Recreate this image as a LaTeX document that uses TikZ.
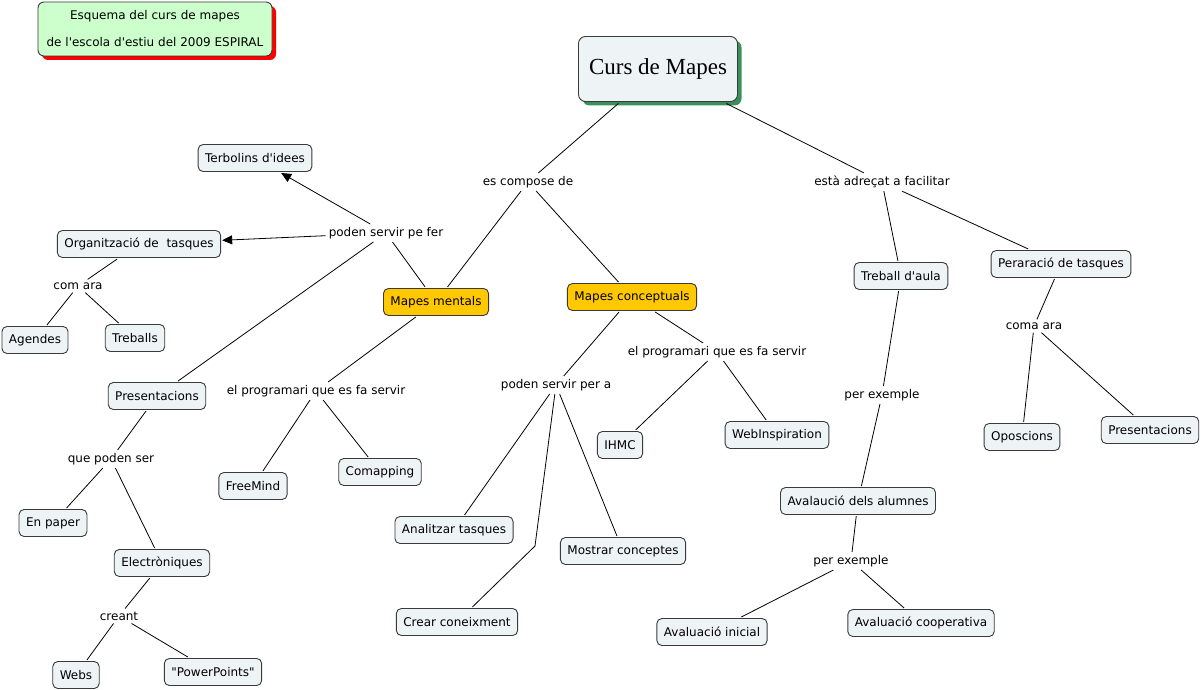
\documentclass[tikz,border=0pt]{standalone}
\usepackage{fontspec}
\setmainfont{DejaVu Sans}[Ligatures=TeXOff]
\newfontfamily\titlefont{Liberation Serif}
\usetikzlibrary{arrows.meta,shadows}
\definecolor{boxfill}{HTML}{EEF3F5}
\definecolor{boxdraw}{HTML}{3A3A3A}
\definecolor{gold}{HTML}{FFC800}
\definecolor{lgreen}{HTML}{CCFFCC}
\definecolor{sgreen}{HTML}{3A8F5C}
\begin{document}
\begin{tikzpicture}[x=1pt,y=-1pt,
  txt/.style={font=\fontsize{12}{14}\selectfont},
  concept/.style={txt, draw=boxdraw, fill=boxfill, rounded corners=5pt, line width=0.9pt,
    minimum height=27pt, inner xsep=7pt, inner ysep=0pt, outer sep=1.5pt},
  keyc/.style={concept, fill=gold},
  lbl/.style={txt, inner sep=3pt},
  link/.style={draw=black, line width=0.8pt},
  arr/.style={link, -{Triangle[length=10pt,width=9pt]}}
]
\useasboundingbox (0,0) rectangle (1201,690);
\fill[white] (0,0) rectangle (1201,690);

% header boxes
\node[draw=boxdraw, fill=lgreen, rounded corners=6pt, line width=0.9pt,
  minimum width=234pt, minimum height=54pt, align=center,
  font=\fontsize{12}{27}\selectfont,
  drop shadow={shadow xshift=4pt, shadow yshift=-4pt, fill=red, opacity=1}]
  (hdr) at (155,29) {Esquema del curs de mapes\\de l'escola d'estiu del 2009 ESPIRAL};
\node[draw=boxdraw, fill=boxfill, rounded corners=7pt, line width=0.9pt,
  minimum width=159pt, minimum height=65pt, outer sep=2pt,
  font=\titlefont\fontsize{23}{27}\selectfont,
  drop shadow={shadow xshift=4pt, shadow yshift=-4pt, fill=sgreen, opacity=1}]
  (curs) at (658,69) {Curs de Mapes};

% linking phrases
\node[lbl] (compose) at (528,182) {es compose de};
\node[lbl] (adrecat) at (882,182) {està adreçat a facilitar};
\node[lbl] (peferr) at (386,233) {poden servir pe fer};
\node[lbl] (comara) at (78,286) {com ara};
\node[lbl] (queps) at (111,459) {que poden ser};
\node[lbl] (creant) at (119,616) {creant};
\node[lbl] (progL) at (316,391) {el programari que es fa servir};
\node[lbl] (pspa) at (556,385) {poden servir per a};
\node[lbl] (progR) at (717,352) {el programari que es fa servir};
\node[lbl] (pexA) at (882,395) {per exemple};
\node[lbl] (pexB) at (851,561) {per exemple};
\node[lbl] (comaara) at (1034,326) {coma ara};

% concepts
\node[keyc] (mm) at (436,302) {Mapes mentals};
\node[keyc] (mc) at (632,297) {Mapes conceptuals};
\node[concept] (terb) at (255,158) {Terbolins d'idees};
\node[concept] (org) at (139,244) {Organització de\ \ tasques};
\node[concept] (agen) at (35,340) {Agendes};
\node[concept] (treb) at (135,338) {Treballs};
\node[concept] (presL) at (157,396) {Presentacions};
\node[concept] (paper) at (53,523) {En paper};
\node[concept] (elec) at (162,563) {Electròniques};
\node[concept] (webs) at (76,675) {Webs};
\node[concept] (ppt) at (213,672) {"PowerPoints"};
\node[concept] (free) at (253,486) {FreeMind};
\node[concept] (comap) at (380,472) {Comapping};
\node[concept] (anal) at (454,530) {Analitzar tasques};
\node[concept] (crear) at (457,622) {Crear coneixment};
\node[concept] (most) at (623,551) {Mostrar conceptes};
\node[concept] (ihmc) at (620,445) {IHMC};
\node[concept] (webi) at (777,435) {WebInspiration};
\node[concept] (aula) at (901,276) {Treball d'aula};
\node[concept] (pera) at (1061,264) {Peraració de tasques};
\node[concept] (opos) at (1022,437) {Oposcions};
\node[concept] (presR) at (1150,430) {Presentacions};
\node[concept] (aval) at (858,501) {Avalaució dels alumnes};
\node[concept] (avin) at (712,632) {Avaluació inicial};
\node[concept] (avco) at (921,623) {Avaluació cooperativa};

\coordinate (bend) at (535,546);

% connectors
\draw[link] (curs) -- (compose);
\draw[link] (compose) -- (mm);
\draw[link] (compose) -- (mc);
\draw[link] (curs) -- (adrecat);
\draw[link] (adrecat) -- (aula);
\draw[link] (adrecat) -- (pera);
\draw[link] (mm) -- (peferr);
\draw[arr] (peferr) -- (terb);
\draw[arr] (peferr) -- (org);
\draw[link] (peferr) -- (presL);
\draw[link] (org) -- (comara);
\draw[link] (comara) -- (agen);
\draw[link] (comara) -- (treb);
\draw[link] (presL) -- (queps);
\draw[link] (queps) -- (paper);
\draw[link] (queps) -- (elec);
\draw[link] (elec) -- (creant);
\draw[link] (creant) -- (webs);
\draw[link] (creant) -- (ppt);
\draw[link] (mm) -- (progL);
\draw[link] (progL) -- (free);
\draw[link] (progL) -- (comap);
\draw[link] (mc) -- (pspa);
\draw[link] (mc) -- (progR);
\draw[link] (pspa) -- (anal);
\draw[link] (pspa) -- (bend) -- (crear);
\draw[link] (pspa) -- (most);
\draw[link] (progR) -- (ihmc);
\draw[link] (progR) -- (webi);
\draw[link] (aula) -- (pexA);
\draw[link] (pexA) -- (aval);
\draw[link] (aval) -- (pexB);
\draw[link] (pexB) -- (avin);
\draw[link] (pexB) -- (avco);
\draw[link] (pera) -- (comaara);
\draw[link] (comaara) -- (opos);
\draw[link] (comaara) -- (presR);
\end{tikzpicture}
\end{document}
